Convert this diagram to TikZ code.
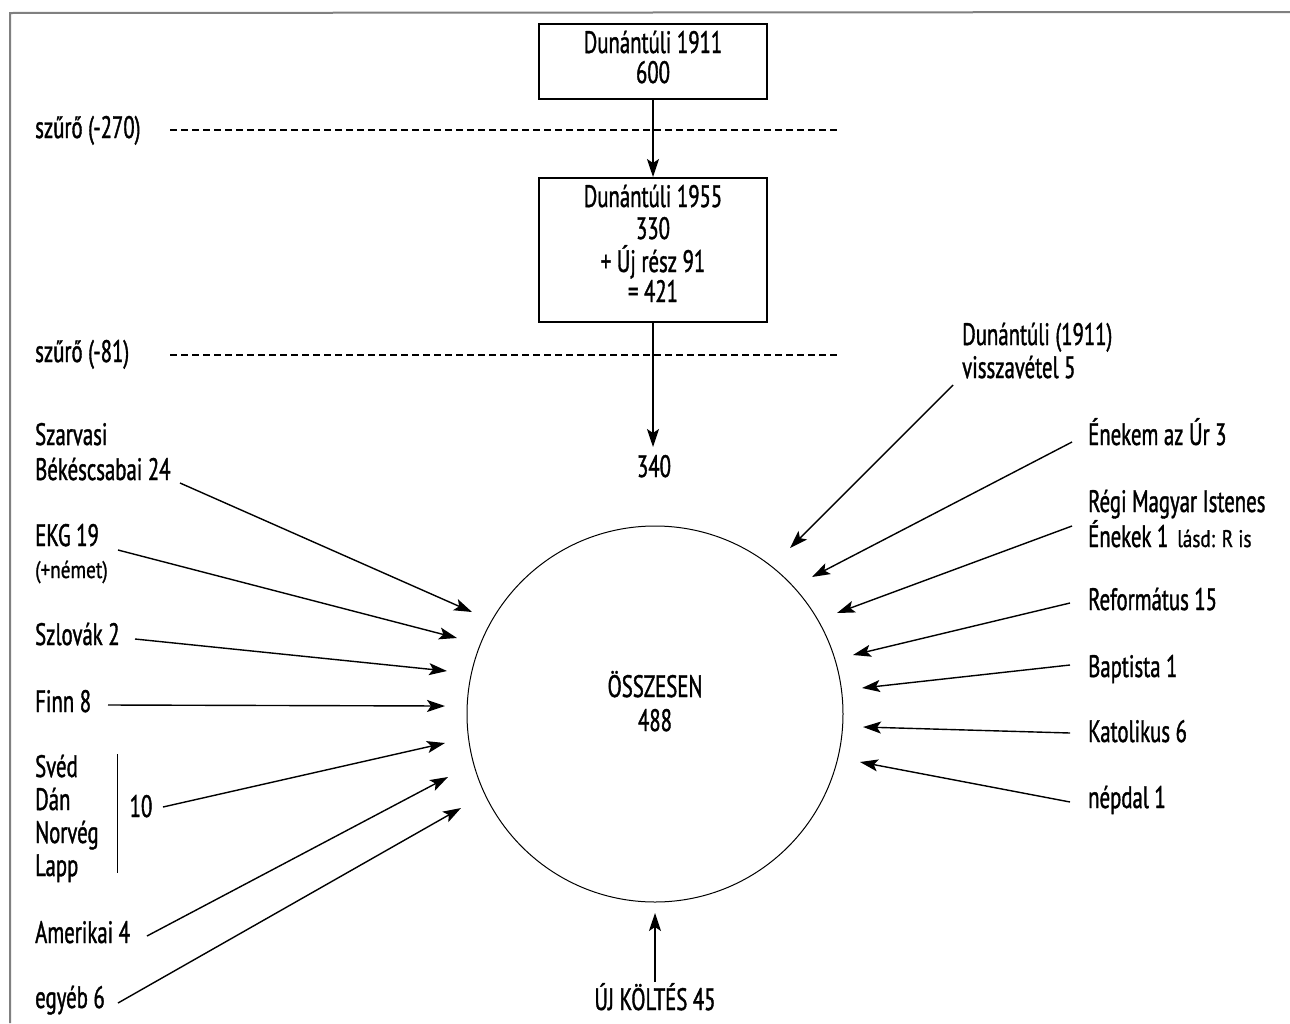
\documentclass[tikz,border=0pt]{standalone}
\usepackage{fontspec}
\setmainfont[FakeStretch=0.67,FakeBold=1.2]{PT Sans}
\newfontfamily\smallfont[FakeStretch=0.8,FakeBold=1]{PT Sans}
\usetikzlibrary{arrows.meta}
\begin{document}
\begin{tikzpicture}[x=1pt,y=-1pt,
  lbl/.style={anchor=base west,inner sep=0pt,font=\fontsize{31}{36}\selectfont},
  ctr/.style={anchor=base,inner sep=0pt,font=\fontsize{31}{36}\selectfont},
  small/.style={anchor=base west,inner sep=0pt,font=\smallfont\fontsize{24}{28}\selectfont},
  arr/.style={line width=1.4pt,-{Stealth[length=18pt,width=12pt,inset=4pt]}},
  boxfr/.style={draw,line width=1.2pt},
  filt/.style={line width=1.3pt,dash pattern=on 7pt off 4pt},
  frame/.style={draw=black!50,line width=2pt}]
\useasboundingbox (0,0) rectangle (1290,1023);
\draw[frame] (10,1023) -- (10,13) -- (1290,12);
% boxes
\path[boxfr] (539,24) rectangle (767,99);
\path[boxfr] (539,178) rectangle (767,322);
\node[ctr] (b1a) at (653,53) {Dunántúli 1911};
\node[ctr] (b1b) at (653,83) {600};
\node[ctr] (b2a) at (653,207) {Dunántúli 1955};
\node[ctr] (b2b) at (653,239) {330};
\node[ctr] (b2c) at (653,272) {+ Új rész 91};
\node[ctr] (b2d) at (653,302) {= 421};
\coordinate (box1s) at (653,100);
\coordinate (box2n) at (653,177);
\coordinate (box2s) at (653,323);
\node[ctr] (n340) at (654,477) {340};
\coordinate (n340n) at (653,447);
\draw[arr] (box1s) -- (box2n);
\draw[arr] (box2s) -- (n340n);
% filters
\node[lbl] (f1) at (35,138) {szűrő (-270)};
\node[lbl] (f2) at (35,362) {szűrő (-81)};
\coordinate (f1e) at (840,130);
\coordinate (f2e) at (840,355);
\draw[filt] (170,130) -- (f1e);
\draw[filt] (170,355) -- (f2e);
% circle
\draw[line width=1pt] (655,714) circle[radius=188];
\node (circ) at (655,714) {};
\node[ctr] (ossz) at (655,697) {ÖSSZESEN};
\node[ctr] (sum) at (655,731) {488};
% left labels
\node[lbl] (sz) at (35,445) {Szarvasi};
\node[lbl] (bek) at (35,480) {Békéscsabai 24};
\node[lbl] (ekg) at (35,546) {EKG 19};
\node[small] (nem) at (35,578) {(+német)};
\node[lbl] (szl) at (35,645) {Szlovák 2};
\node[lbl] (finn) at (35,712) {Finn 8};
\node[lbl] (sved) at (35,777) {Svéd};
\node[lbl] (dan) at (35,810) {Dán};
\node[lbl] (norv) at (35,843) {Norvég};
\node[lbl] (lapp) at (35,876) {Lapp};
\node[ctr] (ten) at (141,817) {10};
\coordinate (brt) at (117,754);
\coordinate (brb) at (117,873);
\draw[line width=1pt] (brt) -- (brb);
\node[lbl] (amer) at (35,943) {Amerikai 4};
\node[lbl] (egy) at (35,1008) {egyéb 6};
\coordinate (s1) at (180,483); \coordinate (t1) at (472,612);
\coordinate (s2) at (118,550); \coordinate (t2) at (457,638);
\coordinate (s3) at (135,639); \coordinate (t3) at (447,671);
\coordinate (s4) at (108,705); \coordinate (t4) at (445,706);
\coordinate (s5) at (163,807); \coordinate (t5) at (445,743);
\coordinate (s6) at (147,936); \coordinate (t6) at (448,777);
\coordinate (s7) at (118,1003); \coordinate (t7) at (461,808);
\foreach \i in {1,...,7} {\draw[arr] (s\i) -- (t\i);}
% right labels
\node[lbl] (dun) at (962,345) {Dunántúli (1911)};
\node[lbl] (vissz) at (962,378) {visszavétel 5};
\node[lbl] (enek) at (1088,445) {Énekem az Úr 3};
\node[lbl] (regi) at (1088,512) {Régi Magyar Istenes};
\node[lbl] (ene1) at (1088,547) {Énekek 1};
\node[small] (lasd) at (1177,547) {lásd: R is};
\node[lbl] (ref) at (1088,610) {Református 15};
\node[lbl] (bap) at (1088,677) {Baptista 1};
\node[lbl] (kat) at (1088,742) {Katolikus 6};
\node[lbl] (nep) at (1088,808) {népdal 1};
\coordinate (r1) at (953,385); \coordinate (u1) at (790,548);
\coordinate (r2) at (1072,442); \coordinate (u2) at (812,577);
\coordinate (r3) at (1072,526); \coordinate (u3) at (837,613);
\coordinate (r4) at (1070,603); \coordinate (u4) at (853,655);
\coordinate (r5) at (1070,665); \coordinate (u5) at (862,688);
\coordinate (r6) at (1070,733); \coordinate (u6) at (863,727);
\coordinate (r7) at (1070,802); \coordinate (u7) at (860,762);
\foreach \i in {1,...,7} {\draw[arr] (r\i) -- (u\i);}
% bottom
\node[ctr] (uj) at (655,1010) {ÚJ KÖLTÉS 45};
\coordinate (ujn) at (655,982);
\coordinate (circs) at (655,913);
\draw[arr] (ujn) -- (circs);
\end{tikzpicture}
\end{document}
